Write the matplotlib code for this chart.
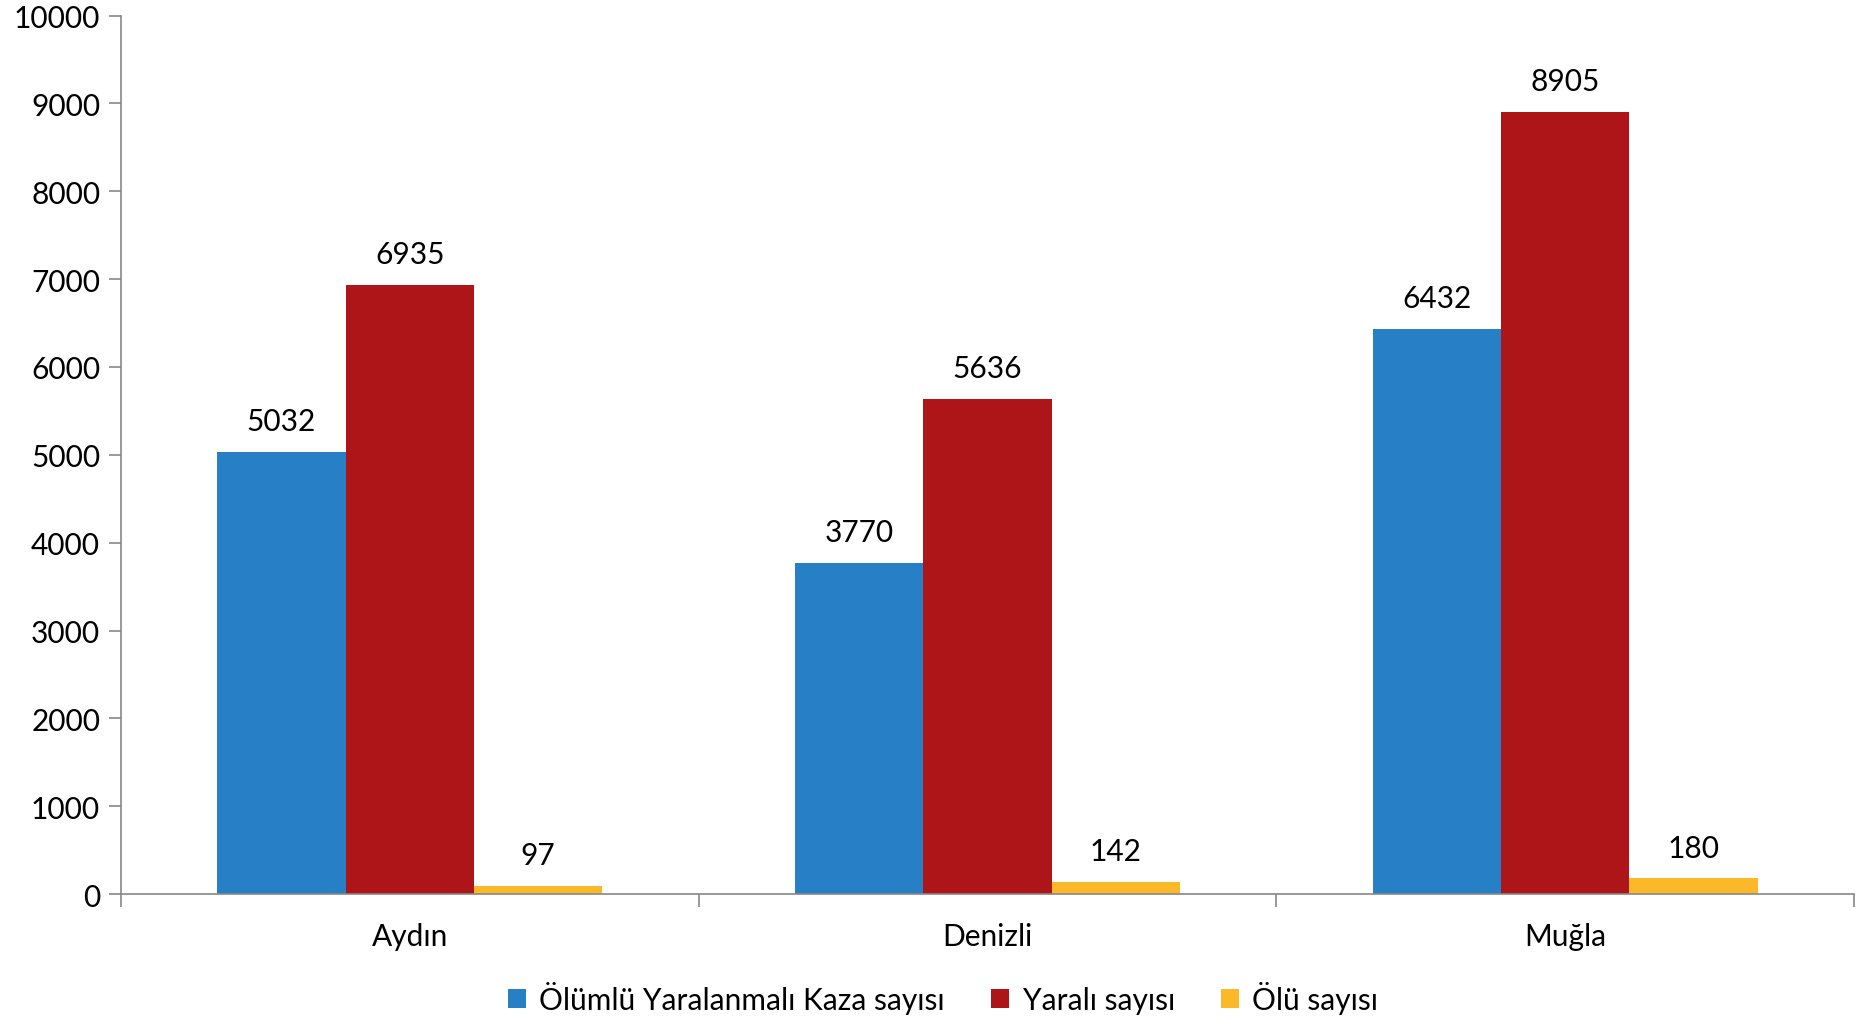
import matplotlib
matplotlib.use("Agg")
import matplotlib.pyplot as plt
import numpy as np
from matplotlib.patches import Patch

plt.rcParams["font.family"] = ["Lato", "DejaVu Sans"]

CITIES = ["Aydın", "Denizli", "Muğla"]
SERIES = ["Ölümlü Yaralanmalı Kaza sayısı", "Yaralı sayısı", "Ölü sayısı"]
KAZA = [5032, 3770, 6432]
YARALI = [6935, 5636, 8905]
OLU = [97, 142, 180]
COLORS = ["#2780C6", "#AE1518", "#FBB829"]
YTICKS = list(range(0, 10001, 1000))

FS = 21.5

fig = plt.figure(figsize=(18.64, 10.2), dpi=100)
ax = fig.add_axes([0.0649, 0.1225, 0.9297, 0.8612])

x = np.arange(len(CITIES))
w = 2 / 9
for i, (vals, col) in enumerate(zip([KAZA, YARALI, OLU], COLORS)):
    pos = x + (i - 1) * w
    ax.bar(pos, vals, width=w, color=col, edgecolor="none")
    for p, v in zip(pos, vals):
        ax.annotate(str(v), (p, v), xytext=(0, 12), textcoords="offset points",
                    ha="center", va="bottom", fontsize=FS)

ax.set_xlim(-0.5, len(CITIES) - 0.5)
ax.set_ylim(0, 10000)
ax.set_yticks(YTICKS)
ax.set_yticklabels([str(t) for t in YTICKS], fontsize=FS)
ax.set_xticks(x)
ax.set_xticklabels(CITIES, fontsize=FS)
ax.tick_params(axis="x", length=0, pad=20)
ax.set_xticks(np.arange(len(CITIES) + 1) - 0.5, minor=True)
ax.tick_params(axis="x", which="minor", length=9, color="#888888", width=1.2)
ax.tick_params(axis="y", length=9, color="#888888", width=1.2, pad=6)

for s in ["top", "right"]:
    ax.spines[s].set_visible(False)
for s in ["left", "bottom"]:
    ax.spines[s].set_color("#888888")
    ax.spines[s].set_linewidth(1.2)

handles = [Patch(facecolor=c, edgecolor="none") for c in COLORS]
fig.legend(handles, SERIES, loc="center", bbox_to_anchor=(0.506, 0.021), ncol=3,
           frameon=False, fontsize=FS, handlelength=0.6, handleheight=0.6,
           handletextpad=0.45, columnspacing=1.55)

fig.savefig("out.png", dpi=100)
